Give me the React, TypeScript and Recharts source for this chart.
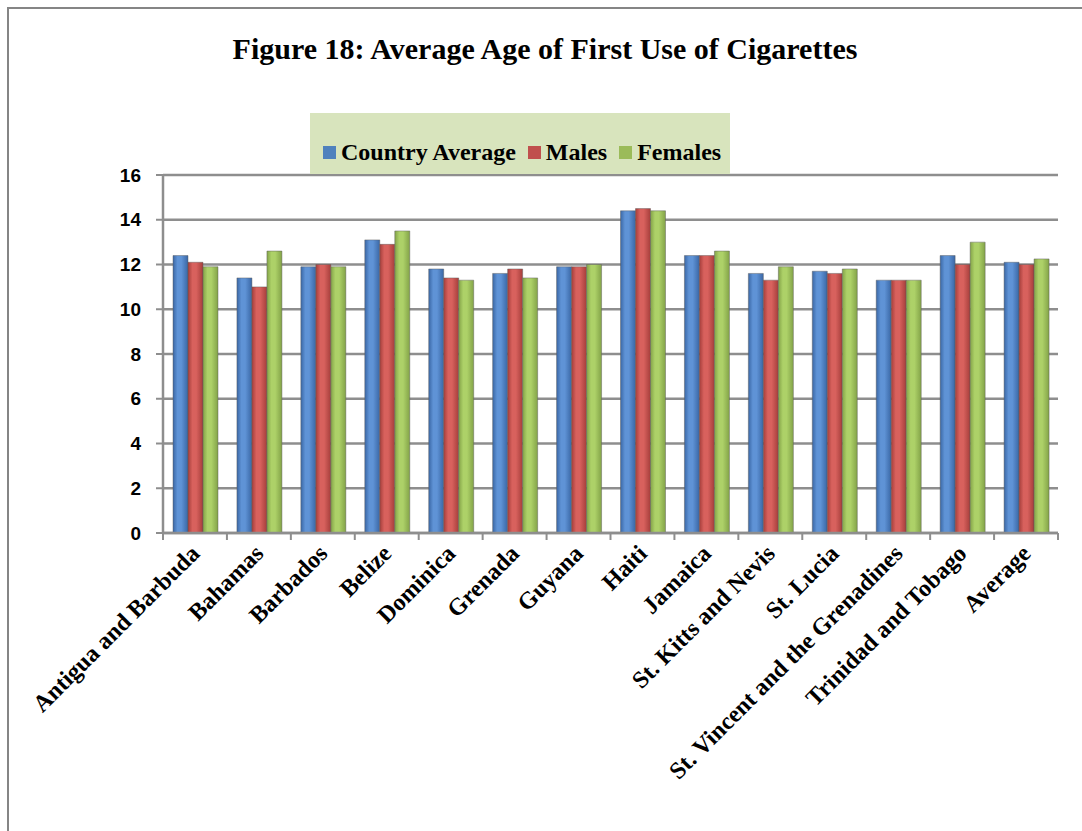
import React from 'react';
import { BarChart, Bar, XAxis, YAxis, CartesianGrid, Legend } from 'recharts';

// Average age of first cigarette use, by country and sex
const countries = [
  'Antigua and Barbuda',
  'Bahamas',
  'Barbados',
  'Belize',
  'Dominica',
  'Grenada',
  'Guyana',
  'Haiti',
  'Jamaica',
  'St. Kitts and Nevis',
  'St. Lucia',
  'St. Vincent and the Grenadines',
  'Trinidad and Tobago',
  'Average',
];
const countryAverage = [12.4, 11.4, 11.9, 13.1, 11.8, 11.6, 11.9, 14.4, 12.4, 11.6, 11.7, 11.3, 12.4, 12.1];
const males = [12.1, 11.0, 12.0, 12.9, 11.4, 11.8, 11.9, 14.5, 12.4, 11.3, 11.6, 11.3, 12.0, 12.0];
const females = [11.9, 12.6, 11.9, 13.5, 11.3, 11.4, 12.0, 14.4, 12.6, 11.9, 11.8, 11.3, 13.0, 12.25];
const yTicks = [0, 2, 4, 6, 8, 10, 12, 14, 16];

const seriesKeys = ['countryAverage', 'males', 'females'];
const seriesNames = ['Country Average', 'Males', 'Females'];
const seriesColors = ['#4f81bd', '#c0504d', '#9bbb59'];
// [edge, highlight] tones for the rounded bar shading
const seriesShades = [
  ['#3a67a5', '#5f93d6'],
  ['#a53e3b', '#d8615d'],
  ['#83a348', '#add168'],
];

const data = countries.map((country, i) => ({
  country,
  countryAverage: countryAverage[i],
  males: males[i],
  females: females[i],
}));

const SERIF = '"Liberation Serif", "Times New Roman", serif';
const SANS = '"Liberation Sans", Arial, sans-serif';
const AXIS_GRAY = '#8e8e8e';
const TICK = 7;

// Category label plus the boundary tick marks between categories
function CountryTick(props: any) {
  const { x, y, payload, index, visibleTicksCount } = props;
  const half = payload && typeof payload.offset === 'number' ? payload.offset : 0;
  const top = y - TICK;
  const ax = x + 6;
  const ay = y + 15;
  return (
    <g>
      <line x1={x - half} x2={x - half} y1={top} y2={y} stroke={AXIS_GRAY} strokeWidth={2} />
      {index === visibleTicksCount - 1 && (
        <line x1={x + half} x2={x + half} y1={top} y2={y} stroke={AXIS_GRAY} strokeWidth={2} />
      )}
      <text
        x={ax}
        y={ay}
        transform={`rotate(-45 ${ax} ${ay})`}
        textAnchor="end"
        fontFamily={SERIF}
        fontWeight="bold"
        fontSize={24}
        fill="#000"
      >
        {payload.value}
      </text>
    </g>
  );
}

// Legend panel listing the series in their drawing order
function LegendBox(props: any) {
  const payload = props.payload || [];
  const entries = seriesKeys.map((key, i) => {
    const found = payload.find((p: any) => p.dataKey === key);
    return { key, name: found ? found.value : seriesNames[i], color: seriesColors[i] };
  });
  return (
    <div
      style={{
        width: '100%',
        height: '100%',
        boxSizing: 'border-box',
        background: '#d8e4bd',
        display: 'flex',
        alignItems: 'flex-end',
        paddingLeft: 13,
        paddingBottom: 10,
        fontFamily: SERIF,
        fontWeight: 'bold',
        fontSize: 24,
        lineHeight: '24px',
        color: '#000',
        whiteSpace: 'nowrap',
      }}
    >
      {entries.map((entry) => (
        <span key={entry.key} style={{ display: 'inline-flex', alignItems: 'center', marginRight: 12 }}>
          <span
            style={{
              display: 'inline-block',
              width: 13,
              height: 13,
              background: entry.color,
              marginRight: 5,
            }}
          />
          {entry.name}
        </span>
      ))}
    </div>
  );
}

export default function App() {
  return (
    <div style={{ position: 'absolute', left: 0, top: 0, width: 1082, height: 831, background: '#fff', overflow: 'hidden' }}>
      <div
        style={{
          position: 'absolute',
          left: 7,
          top: 7,
          width: 1100,
          height: 850,
          borderLeft: '2px solid #858585',
          borderTop: '2px solid #858585',
        }}
      />
      <div
        style={{
          position: 'absolute',
          left: 0,
          top: 32,
          width: 1090,
          textAlign: 'center',
          fontFamily: SERIF,
          fontWeight: 'bold',
          fontSize: 30,
          lineHeight: 'normal',
          color: '#000',
          whiteSpace: 'nowrap',
        }}
      >
        Figure 18: Average Age of First Use of Cigarettes
      </div>
      <div style={{ position: 'absolute', left: 0, top: 0 }}>
        <BarChart
          width={1082}
          height={831}
          data={data}
          margin={{ top: 175, right: 24, bottom: 48, left: 0 }}
          barCategoryGap={10}
          barGap={0}
        >
          <defs>
            {seriesShades.map((s, i) => (
              <linearGradient key={i} id={`shade${i}`} x1="0" y1="0" x2="1" y2="0">
                <stop offset="0%" stopColor={s[0]} />
                <stop offset="30%" stopColor={s[1]} />
                <stop offset="55%" stopColor={s[1]} />
                <stop offset="100%" stopColor={s[0]} />
              </linearGradient>
            ))}
          </defs>
          <CartesianGrid vertical={false} stroke={AXIS_GRAY} strokeWidth={2.5} />
          <XAxis
            dataKey="country"
            interval={0}
            tick={<CountryTick />}
            tickLine={false}
            axisLine={{ stroke: AXIS_GRAY, strokeWidth: 2.5 }}
            tickSize={TICK}
            tickMargin={0}
            height={250}
          />
          <YAxis
            domain={[0, 16]}
            ticks={yTicks}
            interval={0}
            width={163}
            axisLine={{ stroke: AXIS_GRAY, strokeWidth: 2.5 }}
            tickLine={{ stroke: AXIS_GRAY, strokeWidth: 2 }}
            tickSize={TICK}
            tickMargin={15}
            tick={{ fill: '#000', fontSize: 19, fontWeight: 'bold', fontFamily: SANS }}
          />
          <Legend
            layout="vertical"
            align="center"
            verticalAlign="middle"
            content={<LegendBox />}
            wrapperStyle={{ left: 310, top: 113, width: 420, height: 61 }}
          />
          {seriesKeys.map((key, i) => (
            <Bar
              key={key}
              dataKey={key}
              name={seriesNames[i]}
              fill={`url(#shade${i})`}
              stroke="#5a5a5a"
              strokeOpacity={0.45}
              strokeWidth={1}
              isAnimationActive={false}
            />
          ))}
        </BarChart>
      </div>
    </div>
  );
}
